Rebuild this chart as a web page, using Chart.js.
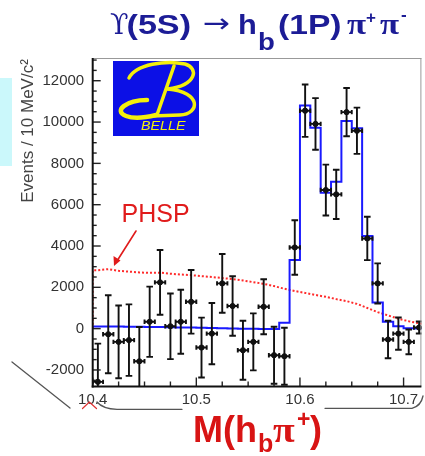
<!DOCTYPE html>
<html>
<head>
<meta charset="utf-8">
<script src="https://cdn.jsdelivr.net/npm/chart.js@4/dist/chart.umd.min.js"></script>
<style>
  html, body { margin: 0; padding: 0; background: #fff; }
  #wrap { position: relative; width: 425px; height: 456px; }
</style>
</head>
<body>
<div id="wrap"><canvas id="hb-chart" width="425" height="456"></canvas></div>
<script>
// bin centres (10 MeV bins) and measured events
const binCenters = [10.405, 10.415, 10.425, 10.435, 10.445, 10.455, 10.465, 10.475, 10.485, 10.495,
                    10.505, 10.515, 10.525, 10.535, 10.545, 10.555, 10.565, 10.575, 10.585, 10.595,
                    10.605, 10.615, 10.625, 10.635, 10.645, 10.655, 10.665, 10.675, 10.685, 10.695,
                    10.705, 10.715];
const events = [-2575, -270, -640, -555, -1580, 335, 2240, 115, 335, 1300,
                -915, -240, 2190, 1095, -1045, -640, 1060, -1285, -1335, 3930,
                10550, 9910, 6710, 6500, 10480, 9580, 4365, 2190, -525, -240,
                -640, 55];
const errors = [1850, 1890, 1760, 1730, 1660, 1700, 1570, 1590, 1550, 1540,
                1450, 1480, 1420, 1440, 1430, 1380, 1330, 1380, 1380, 1320,
                1270, 1250, 1230, 1190, 1170, 1120, 1050, 970, 910, 780,
                600, 290];
const binHalfWidth = 0.005;

// fit histogram: left bin edges + closing edge
const fitEdges = [10.40, 10.41, 10.42, 10.43, 10.44, 10.45, 10.46, 10.47, 10.48, 10.49,
                  10.50, 10.51, 10.52, 10.53, 10.54, 10.55, 10.56, 10.57, 10.58, 10.59,
                  10.60, 10.61, 10.62, 10.63, 10.64, 10.65, 10.66, 10.67, 10.68, 10.69,
                  10.70, 10.71, 10.72];
const fitValues = [110, 105, 100, 95, 90, 85, 75, 70, 60, 50,
                   40, 30, 20, 10, 0, -10, -15, -20, 280, 3320,
                   10800, 9730, 6580, 7110, 10050, 9700, 4480, 1270, 330, 120,
                   20, 10, 10];

// phase space shape (dotted red)
const phspX = [10.400, 10.400, 10.405, 10.415, 10.425, 10.435, 10.445, 10.455, 10.465, 10.475,
               10.485, 10.495, 10.505, 10.515, 10.525, 10.535, 10.545, 10.555, 10.565, 10.575,
               10.585, 10.595, 10.605, 10.615, 10.625, 10.635, 10.645, 10.655, 10.665, 10.675,
               10.685, 10.695, 10.705, 10.715, 10.72];
const phspY = [0, 2830, 2830, 2880, 2800, 2760, 2720, 2700, 2710, 2660,
               2620, 2590, 2540, 2500, 2450, 2400, 2330, 2250, 2170, 2060,
               1930, 1820, 1730, 1630, 1540, 1430, 1330, 1200, 1000, 800,
               640, 480, 360, 260, 220];

const xTicks = [10.4, 10.5, 10.6, 10.7];
const yTicks = [-2000, 0, 2000, 4000, 6000, 8000, 10000, 12000];

function txt(ctx, str, x, y, font, color, sx) {
    ctx.save();
    ctx.translate(x, y);
    ctx.scale(sx || 1, 1);
    ctx.font = font;
    ctx.fillStyle = color;
    ctx.textAlign = 'left';
    ctx.textBaseline = 'alphabetic';
    ctx.fillText(str, 0, 0);
    ctx.restore();
}

function seg(ctx, x1, y1, x2, y2) {
    ctx.beginPath();
    ctx.moveTo(x1, y1);
    ctx.lineTo(x2, y2);
    ctx.stroke();
}

const errorBars = {
    id: 'errorBars',
    afterDatasetDraw(chart, args) {
        if (args.index !== 1) return;
        const ctx = chart.ctx, xs = chart.scales.x, ys = chart.scales.y, a = chart.chartArea;
        ctx.save();
        ctx.beginPath();
        ctx.rect(a.left, a.top, a.right - a.left, a.bottom - a.top);
        ctx.clip();
        ctx.strokeStyle = '#111';
        ctx.lineWidth = 1.9;
        binCenters.forEach((x, i) => {
            const px = xs.getPixelForValue(x);
            const py = ys.getPixelForValue(events[i]);
            const top = ys.getPixelForValue(events[i] + errors[i]);
            const bot = ys.getPixelForValue(events[i] - errors[i]);
            const l = xs.getPixelForValue(x - binHalfWidth);
            const r = xs.getPixelForValue(x + binHalfWidth);
            seg(ctx, px, top, px, bot);
            seg(ctx, px - 3.3, top, px + 3.3, top);
            seg(ctx, px - 3.3, bot, px + 3.3, bot);
            seg(ctx, l, py, r, py);
            seg(ctx, l, py - 2.2, l, py + 2.2);
            seg(ctx, r, py - 2.2, r, py + 2.2);
        });
        ctx.restore();
    }
};

const decor = {
    id: 'decor',
    afterDraw(chart) {
        const ctx = chart.ctx, xs = chart.scales.x, ys = chart.scales.y, a = chart.chartArea;
        ctx.save();

        // inner ticks
        ctx.strokeStyle = '#222';
        ctx.lineWidth = 1.4;
        for (let v = -2500; v <= 13000; v += 500) {
            const py = ys.getPixelForValue(v);
            if (py < a.top || py > a.bottom) continue;
            const len = (v % 2000 === 0) ? 8 : 4;
            seg(ctx, a.left, py, a.left + len, py);
        }
        for (let k = 0; k <= 12; k++) {
            const v = 10.4 + k * 0.025;
            const px = xs.getPixelForValue(v);
            const len = (k % 4 === 0) ? 9 : 5;
            seg(ctx, px, a.bottom, px, a.bottom - len);
        }

        // frame
        ctx.strokeStyle = '#999';
        ctx.lineWidth = 1;
        seg(ctx, a.left, a.top + 0.5, a.right, a.top + 0.5);
        seg(ctx, a.right - 0.5, a.top, a.right - 0.5, a.bottom);
        ctx.strokeStyle = '#111';
        ctx.lineWidth = 2;
        seg(ctx, a.left, a.top, a.left, a.bottom + 1);
        seg(ctx, a.left - 1, a.bottom, a.right, a.bottom);

        // Belle logo
        ctx.fillStyle = '#0c10e6';
        ctx.fillRect(113, 61, 86, 75);
        ctx.strokeStyle = '#f4f00c';
        ctx.lineCap = 'round';
        ctx.lineWidth = 3.5;
        ctx.beginPath();
        ctx.moveTo(129, 78);
        ctx.bezierCurveTo(136, 64, 166, 60, 185, 64);
        ctx.bezierCurveTo(199, 68, 197, 85, 168, 89);
        ctx.stroke();
        ctx.beginPath();
        ctx.moveTo(168, 89);
        ctx.bezierCurveTo(202, 92, 200, 114, 180, 115);
        ctx.lineTo(152, 116);
        ctx.stroke();
        ctx.beginPath();
        ctx.moveTo(174, 66);
        ctx.lineTo(157, 115);
        ctx.stroke();
        ctx.lineWidth = 4.5;
        ctx.beginPath();
        ctx.moveTo(147, 100);
        ctx.bezierCurveTo(126, 100, 113, 111, 126, 116);
        ctx.bezierCurveTo(134, 119, 148, 117, 156, 115);
        ctx.stroke();
        txt(ctx, 'BELLE', 141, 130, 'italic 13px "Liberation Sans"', '#f4f00c', 1.1);

        // light cyan strip at the left edge
        ctx.fillStyle = '#cbf8fb';
        ctx.fillRect(0, 78, 12, 88);

        // y-axis title
        ctx.save();
        ctx.translate(28, 131);
        ctx.rotate(-Math.PI / 2);
        ctx.font = '17px "Liberation Sans"';
        ctx.fillStyle = '#444';
        ctx.textAlign = 'center';
        ctx.textBaseline = 'middle';
        ctx.fillText('Events / 10 MeV/c²', 0, 0);
        ctx.restore();

        // title
        const navy = '#1c1c96';
        txt(ctx, 'ϒ', 110, 33.5, '27px "DejaVu Serif"', navy, 1);
        txt(ctx, '(5S)', 126.5, 33.5, 'bold 28px "Liberation Sans"', navy, 1.22);
        txt(ctx, '→', 203, 32, '26px "DejaVu Sans"', navy, 1.25);
        txt(ctx, 'h', 238, 33.5, 'bold 28px "Liberation Sans"', navy, 1.1);
        txt(ctx, 'b', 258, 50, 'bold 24px "Liberation Sans"', navy, 1.15);
        txt(ctx, '(1P)', 278, 33.5, 'bold 28px "Liberation Sans"', navy, 1.2);
        txt(ctx, 'π', 347, 33.5, 'bold 29px "Liberation Serif"', navy, 1.2);
        txt(ctx, '+', 366, 22.5, 'bold 17px "Liberation Sans"', navy, 1);
        txt(ctx, 'π', 380, 33.5, 'bold 29px "Liberation Serif"', navy, 1.2);
        txt(ctx, '-', 401, 20, 'bold 17px "Liberation Sans"', navy, 1);

        // x-axis title
        const red = '#d81414';
        txt(ctx, 'M(h', 193, 441.5, 'bold 36px "Liberation Sans"', red, 1);
        txt(ctx, 'b', 258, 451.5, 'bold 25px "Liberation Sans"', red, 1);
        txt(ctx, 'π', 273, 441.5, 'bold 36px "Liberation Serif"', red, 1.1);
        txt(ctx, '+', 297, 427, 'bold 23px "Liberation Sans"', red, 1);
        txt(ctx, ')', 310, 441.5, 'bold 36px "Liberation Sans"', red, 1);

        // PHSP label + arrow
        txt(ctx, 'PHSP', 121.5, 221.5, '25px "Liberation Sans"', '#e01b1b', 1);
        ctx.strokeStyle = '#e01b1b';
        ctx.fillStyle = '#e01b1b';
        ctx.lineWidth = 1.6;
        seg(ctx, 136, 231, 117, 261);
        ctx.beginPath();
        ctx.moveTo(114, 266);
        ctx.lineTo(113.5, 256);
        ctx.lineTo(120.5, 260.5);
        ctx.closePath();
        ctx.fill();

        // scribbled marks around the x axis
        ctx.strokeStyle = '#555';
        ctx.lineWidth = 1.3;
        seg(ctx, 12, 362, 70, 408);
        ctx.beginPath();
        ctx.moveTo(97, 402);
        ctx.quadraticCurveTo(103, 409, 117, 409.3);
        ctx.lineTo(182, 409.3);
        ctx.stroke();
        ctx.beginPath();
        ctx.moveTo(325, 408.3);
        ctx.lineTo(412, 408.3);
        ctx.quadraticCurveTo(421, 406, 423, 396);
        ctx.stroke();
        ctx.strokeStyle = '#e03030';
        ctx.lineWidth = 1.2;
        ctx.beginPath();
        ctx.moveTo(82.5, 408.5);
        ctx.lineTo(89.3, 402);
        ctx.lineTo(96.5, 408.5);
        ctx.stroke();

        ctx.restore();
    }
};

const points = binCenters.map((x, i) => ({ x: x, y: events[i] }));
const fitLine = fitEdges.map((x, i) => ({ x: x, y: fitValues[i] }));
const phspLine = phspX.map((x, i) => ({ x: x, y: phspY[i] }));

const ctx = document.getElementById('hb-chart').getContext('2d');
new Chart(ctx, {
    type: 'scatter',
    data: {
        datasets: [
            {
                label: 'Data',
                data: points,
                backgroundColor: '#111',
                borderColor: '#111',
                pointRadius: 2.6,
                pointHoverRadius: 0,
                order: 0,
            },
            {
                label: 'Fit',
                type: 'line',
                data: fitLine,
                stepped: 'before',
                borderColor: '#1a1aff',
                borderWidth: 2,
                pointRadius: 0,
                fill: false,
                order: 1,
            },
            {
                label: 'PHSP',
                type: 'line',
                data: phspLine,
                borderColor: '#ff2a2a',
                borderWidth: 2,
                borderDash: [2, 2],
                pointRadius: 0,
                fill: false,
                tension: 0,
                order: 2,
            },
        ],
    },
    options: {
        responsive: false,
        animation: false,
        events: [],
        layout: { padding: { top: 58, right: 2, left: 0, bottom: 0 } },
        plugins: {
            legend: { display: false },
            tooltip: { enabled: false },
        },
        scales: {
            x: {
                type: 'linear',
                min: 10.4,
                max: 10.7172,
                grid: { display: false, drawTicks: false },
                border: { display: false },
                afterBuildTicks: scale => { scale.ticks = xTicks.map(v => ({ value: v })); },
                afterFit: scale => { scale.height = 69.5; },
                ticks: {
                    padding: 4,
                    autoSkip: false,
                    maxRotation: 0,
                    color: '#333',
                    font: { size: 15, family: 'Liberation Sans' },
                    callback: v => v.toFixed(1),
                },
            },
            y: {
                type: 'linear',
                min: -2800,
                max: 13100,
                grid: { display: false, drawTicks: false },
                border: { display: false },
                afterBuildTicks: scale => { scale.ticks = yTicks.map(v => ({ value: v })); },
                afterFit: scale => { scale.width = 92.7; },
                ticks: {
                    padding: 8.5,
                    autoSkip: false,
                    color: '#333',
                    font: { size: 15, family: 'Liberation Sans' },
                    callback: v => String(v),
                },
            },
        },
    },
    plugins: [errorBars, decor],
});
</script>
</body>
</html>
